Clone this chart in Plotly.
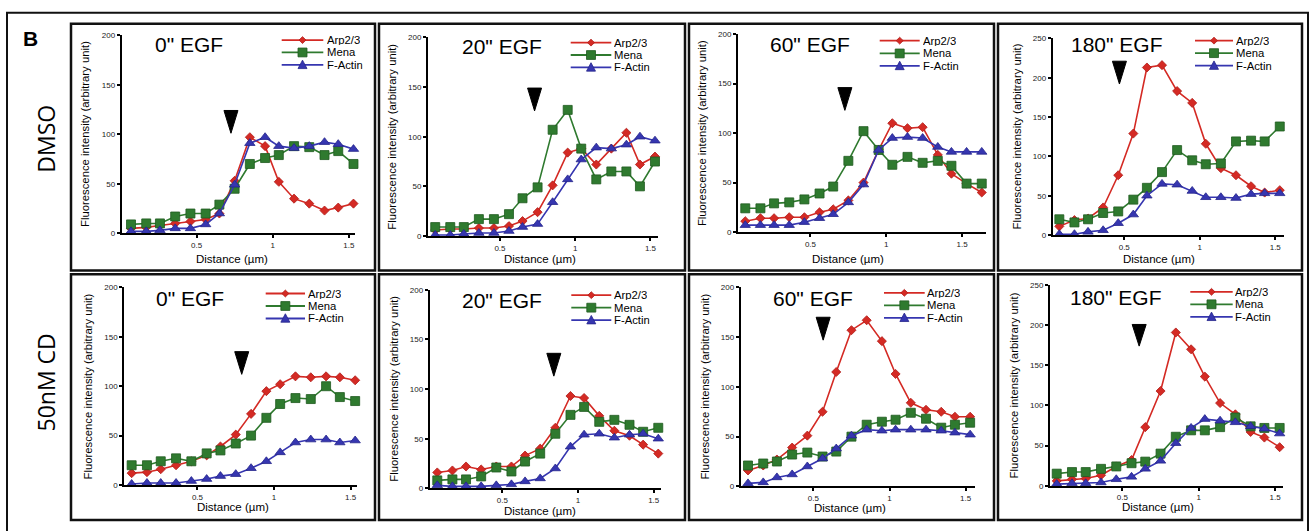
import plotly.graph_objects as go

W, H = 1309, 531

# ---------------- data ----------------
distance_um = [0.07, 0.17, 0.26, 0.36, 0.46, 0.56, 0.65, 0.75, 0.85, 0.95,
               1.04, 1.14, 1.24, 1.34, 1.43, 1.53, 1.63]

series_names = ["Arp2/3", "Mena", "F-Actin"]
panel_titles = ['0" EGF', '20" EGF', '60" EGF', '180" EGF',
                '0" EGF', '20" EGF', '60" EGF', '180" EGF']
row_labels = ["DMSO", "50nM CD"]

# DMSO row
arp_dmso_0 = [5, 6, 8, 10, 12, 14, 20, 53, 97, 88, 52, 35, 30, 23, 26, 30]
mena_dmso_0 = [9, 10, 10, 17, 20, 20, 29, 45, 70, 76, 79, 88, 87, 79, 83, 70]
actin_dmso_0 = [2, 2, 3, 5, 5, 9, 20, 49, 91, 97, 88, 86, 88, 92, 90, 85]

arp_dmso_20 = [6, 7, 7, 8, 8, 10, 15, 24, 51, 84, 88, 72, 88, 104, 72, 80]
mena_dmso_20 = [9, 9, 9, 17, 17, 22, 38, 49, 107, 127, 88, 57, 65, 65, 50, 75]
actin_dmso_20 = [1, 1, 2, 3, 3, 5, 9, 12, 34, 57, 77, 89, 88, 92, 100, 96]

arp_dmso_60 = [11, 14, 14, 15, 15, 20, 23, 32, 50, 83, 110, 105, 106, 78, 59, 49, 40]
mena_dmso_60 = [24, 24, 29, 30, 33, 39, 46, 72, 102, 83, 68, 76, 70, 72, 67, 49, 49]
actin_dmso_60 = [7, 7, 7, 7, 10, 14, 18, 30, 48, 83, 95, 96, 95, 86, 81, 81, 81]

arp_dmso_180 = [11, 19, 21, 35, 76, 129, 213, 216, 183, 168, 116, 85, 76, 62, 54, 57]
mena_dmso_180 = [20, 16, 20, 28, 30, 45, 60, 80, 108, 95, 90, 91, 119, 120, 119, 138]
actin_dmso_180 = [1, 1, 4, 6, 15, 26, 50, 65, 64, 56, 48, 48, 47, 52, 53, 53]

# 50nM CD row
arp_cd_0 = [12, 13, 16, 20, 24, 30, 39, 51, 72, 95, 102, 110, 109, 110, 109, 106]
mena_cd_0 = [20, 20, 24, 27, 24, 32, 35, 42, 50, 68, 82, 88, 87, 100, 89, 85]
actin_cd_0 = [1, 2, 2, 2, 4, 6, 9, 11, 17, 24, 33, 43, 46, 46, 43, 45]

arp_cd_20 = [16, 18, 22, 19, 22, 22, 33, 40, 61, 93, 91, 73, 58, 53, 44, 35]
mena_cd_20 = [8, 9, 9, 12, 21, 17, 27, 35, 55, 74, 82, 67, 69, 64, 57, 61]
actin_cd_20 = [3, 2, 2, 2, 3, 4, 7, 10, 20, 42, 54, 55, 51, 54, 55, 50]

arp_cd_60 = [16, 21, 27, 39, 51, 75, 115, 157, 167, 146, 113, 84, 77, 75, 70, 70]
mena_cd_60 = [21, 23, 25, 32, 34, 30, 35, 50, 62, 65, 67, 74, 68, 59, 62, 64]
actin_cd_60 = [3, 4, 9, 12, 20, 28, 38, 51, 57, 56, 57, 57, 57, 56, 54, 52]

arp_cd_180 = [6, 8, 9, 13, 24, 32, 73, 118, 191, 170, 136, 103, 89, 67, 60, 48]
mena_cd_180 = [15, 17, 17, 21, 24, 28, 30, 40, 61, 69, 69, 73, 85, 74, 72, 72]
actin_cd_180 = [2, 3, 3, 4, 8, 11, 21, 31, 53, 72, 83, 81, 79, 74, 71, 65]

panel_series = [
    (arp_dmso_0, mena_dmso_0, actin_dmso_0),
    (arp_dmso_20, mena_dmso_20, actin_dmso_20),
    (arp_dmso_60, mena_dmso_60, actin_dmso_60),
    (arp_dmso_180, mena_dmso_180, actin_dmso_180),
    (arp_cd_0, mena_cd_0, actin_cd_0),
    (arp_cd_20, mena_cd_20, actin_cd_20),
    (arp_cd_60, mena_cd_60, actin_cd_60),
    (arp_cd_180, mena_cd_180, actin_cd_180),
]

# arrowheads (distance, top value, tip value)
arrow_x = [0.726, 0.73, 0.727, 0.468, 0.789, 0.84, 0.564, 0.61]
arrow_top = [124, 149, 146, 221, 135, 136, 170, 201]
arrow_tip = [101, 126, 123, 192, 112, 113, 147, 174]

y_max = [200, 200, 200, 250, 200, 200, 200, 250]
x_ticks = [0.5, 1, 1.5]
x_tick_labels = ["0.5", "1", "1.5"]

# ---------------- layout geometry (pixels) ----------------
geom = [
    dict(x0=121.7, x1=355.0, yt=31.7, yb=233.3, xr=[0.009, 1.54]),
    dict(x0=428.0, x1=658.0, yt=34.0, yb=236.0, xr=[0.022, 1.55]),
    dict(x0=738.0, x1=986.3, yt=30.7, yb=232.0, xr=[0.022, 1.66]),
    dict(x0=1052.7, x1=1284.3, yt=35.0, yb=235.0, xr=[0.026, 1.56]),
    dict(x0=124.3, x1=356.7, yt=288.3, yb=489.3, xr=[0.022, 1.54]),
    dict(x0=429.7, x1=661.3, yt=290.7, yb=492.7, xr=[0.02, 1.55]),
    dict(x0=740.7, x1=974.7, yt=288.3, yb=490.7, xr=[0.022, 1.56]),
    dict(x0=1050.0, x1=1282.7, yt=286.0, yb=490.0, xr=[0.026, 1.55]),
]
frames = [
    (71, 20, 375, 271), (379, 20, 685, 271), (689, 20, 994, 271), (998, 20, 1302, 271),
    (71, 275, 375, 525), (379, 275, 685, 525), (689, 275, 994, 525), (998, 275, 1302, 525),
]
title_pos = [(153.3, 41.7), (459.7, 43.3), (768, 41.7), (1068.7, 41.7),
             (154.3, 299.3), (459.7, 301.7), (770.7, 300), (1067.7, 298.3)]
legend_geo = [
    (281.7, 323.3, 325.0, [36.7, 49.3, 61.9]),
    (570.7, 611.3, 612.3, [39.3, 51.9, 64.5]),
    (879.7, 919.7, 920.7, [37.3, 50.3, 63.0]),
    (1195.0, 1233.0, 1234.0, [37.3, 50.0, 62.7]),
    (265.7, 305.0, 306.0, [294.5, 307.2, 319.9]),
    (571.3, 611.3, 612.3, [296.2, 308.9, 321.6]),
    (884.0, 924.7, 925.3, [293.8, 306.5, 319.2]),
    (1190.3, 1232.7, 1233.3, [292.8, 305.5, 318.2]),
]
xtitle_pos = [(231.7, 259.5), (539.7, 259.5), (848, 259.5), (1159.3, 259.5),
              (233.3, 512.0), (539.7, 515.5), (850.3, 513.0), (1157.7, 512.0)]

colors = ["#d42a24", "#2f7a2f", "#3636b0"]
edge_colors = ["#b01c18", "#1f5a1f", "#25258a"]
symbols = ["diamond", "square", "triangle-up"]
msizes = [7, 9, 9]

FONT = "Liberation Sans, Arial, sans-serif"


def px(x):
    return x / W


def py(y):
    return 1 - y / H


fig = go.Figure()
shapes = []
annotations = []

for i in range(8):
    g = geom[i]
    ax = "" if i == 0 else str(i + 1)
    xa, ya = "x" + ax, "y" + ax
    n = len(panel_series[i][0])
    xs = distance_um[:n]
    for s in range(3):
        fig.add_trace(go.Scatter(
            x=xs, y=panel_series[i][s], mode="lines+markers",
            name=series_names[s], showlegend=False, cliponaxis=False,
            line=dict(color=colors[s], width=1.6),
            marker=dict(symbol=symbols[s], size=msizes[s], color=colors[s],
                        line=dict(color=edge_colors[s], width=0.8)),
            xaxis=xa, yaxis=ya,
        ))
    ymax = y_max[i]
    fig.layout["xaxis" + ax] = dict(
        domain=[px(g["x0"]), px(g["x1"])], range=g["xr"], anchor=ya,
        showline=True, linecolor="black", linewidth=2, ticks="outside",
        ticklen=3, tickwidth=1.5, tickcolor="black",
        tickvals=x_ticks, ticktext=x_tick_labels,
        tickfont=dict(size=8, family=FONT, color="#222"),
        showgrid=False, zeroline=False, fixedrange=True)
    fig.layout["yaxis" + ax] = dict(
        domain=[py(g["yb"]), py(g["yt"])], range=[0, ymax], anchor=xa,
        showline=True, linecolor="black", linewidth=2, ticks="outside",
        ticklen=3, tickwidth=1.5, tickcolor="black",
        tickvals=list(range(0, ymax + 1, 50)),
        tickfont=dict(size=8, family=FONT, color="#222"),
        showgrid=False, zeroline=False, fixedrange=True)

    # arrowhead
    ppu = (g["x1"] - g["x0"]) / (g["xr"][1] - g["xr"][0])
    hw = 7.0 / ppu
    ax_, at, tp = arrow_x[i], arrow_top[i], arrow_tip[i]
    shapes.append(dict(type="path", xref=xa, yref=ya,
                       path=f"M {ax_-hw},{at} L {ax_+hw},{at} L {ax_},{tp} Z",
                       fillcolor="black", line=dict(color="black", width=1)))

    # panel frame
    fx0, fy0, fx1, fy1 = frames[i]
    shapes.append(dict(type="rect", xref="paper", yref="paper",
                       x0=px(fx0), x1=px(fx1), y0=py(fy1), y1=py(fy0),
                       line=dict(color="#111", width=2.5)))

    # title
    tx, ty = title_pos[i]
    annotations.append(dict(text=panel_titles[i], x=px(tx), y=py(ty),
                            xref="paper", yref="paper", xanchor="left", yanchor="middle",
                            showarrow=False, font=dict(size=21, family=FONT, color="black")))
    # axis titles
    xtx, xty = xtitle_pos[i]
    annotations.append(dict(text="Distance (µm)", x=px(xtx), y=py(xty),
                            xref="paper", yref="paper", xanchor="center", yanchor="middle",
                            height=12, showarrow=False,
                            font=dict(size=11.5, family=FONT, color="black")))
    annotations.append(dict(text="Fluorescence intensity (arbitrary unit)",
                            x=px(g["x0"] - 36), y=py((g["yt"] + g["yb"]) / 2),
                            xref="paper", yref="paper", xanchor="center", yanchor="middle",
                            textangle=-90, showarrow=False,
                            font=dict(size=11.3, family=FONT, color="black")))

    # legend
    lx0, lx1, ltx, rows = legend_geo[i]
    cx = (lx0 + lx1) / 2
    for s in range(3):
        ry = rows[s]
        shapes.append(dict(type="line", xref="paper", yref="paper",
                           x0=px(lx0), x1=px(lx1), y0=py(ry), y1=py(ry),
                           line=dict(color=colors[s], width=1.8)))
        if s == 0:
            r = 3.5
            path = (f"M {px(cx)},{py(ry - r)} L {px(cx + r)},{py(ry)} "
                    f"L {px(cx)},{py(ry + r)} L {px(cx - r)},{py(ry)} Z")
        elif s == 1:
            r = 4.5
            path = (f"M {px(cx - r)},{py(ry - r)} L {px(cx + r)},{py(ry - r)} "
                    f"L {px(cx + r)},{py(ry + r)} L {px(cx - r)},{py(ry + r)} Z")
        else:
            r = 4.5
            path = (f"M {px(cx - r)},{py(ry + 3.8)} L {px(cx + r)},{py(ry + 3.8)} "
                    f"L {px(cx)},{py(ry - 4.8)} Z")
        shapes.append(dict(type="path", xref="paper", yref="paper", path=path,
                           fillcolor=colors[s], line=dict(color=edge_colors[s], width=0.8)))
        annotations.append(dict(text=series_names[s], x=px(ltx), y=py(ry),
                                xref="paper", yref="paper", xanchor="left", yanchor="middle",
                                height=10, showarrow=False,
                                font=dict(size=11.3, family=FONT, color="black")))

# outer frame
shapes.append(dict(type="rect", xref="paper", yref="paper",
                   x0=px(7), x1=px(1308), y0=py(545), y1=py(9),
                   line=dict(color="#111", width=2)))

# row labels and panel letter
annotations.append(dict(text=row_labels[0], x=px(46), y=py(137), xref="paper", yref="paper",
                        textangle=-90, showarrow=False, xanchor="center", yanchor="middle",
                        font=dict(size=23, family="Open Sans, sans-serif", color="black")))
annotations.append(dict(text=row_labels[1], x=px(46), y=py(385), xref="paper", yref="paper",
                        textangle=-90, showarrow=False, xanchor="center", yanchor="middle",
                        font=dict(size=23, family="Open Sans, sans-serif", color="black")))
annotations.append(dict(text="<b>B</b>", x=px(31), y=py(35), xref="paper", yref="paper",
                        showarrow=False, xanchor="center", yanchor="middle",
                        font=dict(size=21, family=FONT, color="black")))

fig.update_layout(
    width=W, height=H, margin=dict(l=0, r=0, t=0, b=0),
    paper_bgcolor="white", plot_bgcolor="white",
    shapes=shapes, annotations=annotations, showlegend=False,
)

fig.write_html("out.html", config={"displayModeBar": False},
               post_script="document.body.style.margin='0';document.body.style.overflow='hidden';")
